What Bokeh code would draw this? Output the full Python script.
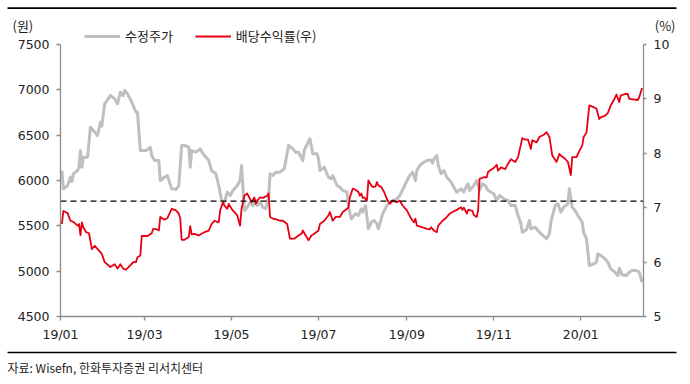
import pandas as pd
from bokeh.plotting import figure
from bokeh.models import (Range1d, LinearAxis, DatetimeAxis, FixedTicker, DatetimeTickFormatter,
                          Label, Legend, LegendItem, BoxAnnotation)
from bokeh.embed import file_html
from bokeh.resources import INLINE

# ---------------- data ----------------
price_dates = [
    "2019-01-02", "2019-01-03", "2019-01-06", "2019-01-08", "2019-01-09", "2019-01-10", "2019-01-13",
    "2019-01-14", "2019-01-15", "2019-01-16", "2019-01-17", "2019-01-20", "2019-01-22", "2019-01-24",
    "2019-01-27", "2019-01-29", "2019-01-30", "2019-02-01", "2019-02-05", "2019-02-08", "2019-02-10",
    "2019-02-12", "2019-02-14", "2019-02-15", "2019-02-17", "2019-02-20", "2019-02-23", "2019-02-24",
    "2019-02-26", "2019-03-02", "2019-03-05", "2019-03-06", "2019-03-08", "2019-03-11", "2019-03-12",
    "2019-03-15", "2019-03-17", "2019-03-20", "2019-03-23", "2019-03-25", "2019-03-27", "2019-03-29",
    "2019-04-01", "2019-04-02", "2019-04-03", "2019-04-06", "2019-04-09", "2019-04-11", "2019-04-15",
    "2019-04-17", "2019-04-20", "2019-04-22", "2019-04-24", "2019-04-26", "2019-04-28", "2019-04-30",
    "2019-05-02", "2019-05-05", "2019-05-07", "2019-05-08", "2019-05-09", "2019-05-10", "2019-05-12",
    "2019-05-14", "2019-05-16", "2019-05-18", "2019-05-19", "2019-05-21", "2019-05-23", "2019-05-25",
    "2019-05-27", "2019-05-28", "2019-05-30", "2019-06-01", "2019-06-04", "2019-06-07", "2019-06-10",
    "2019-06-13", "2019-06-15", "2019-06-17", "2019-06-20", "2019-06-21", "2019-06-22", "2019-06-25",
    "2019-06-27", "2019-06-30", "2019-07-01", "2019-07-02", "2019-07-05", "2019-07-08", "2019-07-10",
    "2019-07-11", "2019-07-14", "2019-07-16", "2019-07-18", "2019-07-21", "2019-07-22", "2019-07-24",
    "2019-07-27", "2019-07-29", "2019-07-31", "2019-08-01", "2019-08-03", "2019-08-05", "2019-08-07",
    "2019-08-09", "2019-08-11", "2019-08-12", "2019-08-13", "2019-08-15", "2019-08-18", "2019-08-20",
    "2019-08-22", "2019-08-25", "2019-08-27", "2019-08-31", "2019-09-03", "2019-09-05", "2019-09-07",
    "2019-09-08", "2019-09-10", "2019-09-13", "2019-09-15", "2019-09-18", "2019-09-19", "2019-09-20",
    "2019-09-22", "2019-09-23", "2019-09-25", "2019-09-27", "2019-09-29", "2019-10-02", "2019-10-04",
    "2019-10-06", "2019-10-09", "2019-10-11", "2019-10-13", "2019-10-14", "2019-10-15", "2019-10-18",
    "2019-10-20", "2019-10-22", "2019-10-24", "2019-10-26", "2019-10-28", "2019-11-01", "2019-11-03",
    "2019-11-05", "2019-11-08", "2019-11-11", "2019-11-13", "2019-11-16", "2019-11-18", "2019-11-20",
    "2019-11-21", "2019-11-24", "2019-11-26", "2019-11-27", "2019-11-30", "2019-12-03", "2019-12-05",
    "2019-12-08", "2019-12-10", "2019-12-11", "2019-12-14", "2019-12-16", "2019-12-18", "2019-12-20",
    "2019-12-23", "2019-12-24", "2019-12-26", "2019-12-28", "2019-12-30", "2020-01-02", "2020-01-03",
    "2020-01-05", "2020-01-07", "2020-01-10", "2020-01-12", "2020-01-13", "2020-01-15", "2020-01-18",
    "2020-01-20", "2020-01-22", "2020-01-25", "2020-01-27", "2020-01-28", "2020-01-30", "2020-02-02",
    "2020-02-04", "2020-02-06", "2020-02-09", "2020-02-11", "2020-02-13",
]
price = [
    6110, 5908, 5945, 6036, 5990, 6073, 6110,
    6147, 6330, 6147, 6257, 6257, 6588, 6551,
    6496, 6643, 6600, 6846, 6937, 6900, 6846,
    6974, 6937, 6993, 6956, 6864, 6753, 6753,
    6330, 6330, 6367, 6276, 6220, 6220, 6000,
    6036, 6055, 5908, 5900, 5945, 6386, 6386,
    6367, 6147, 6330, 6312, 6349, 6294, 6220,
    6110, 6074, 5945, 5779, 5760, 5871, 5834,
    5890, 5945, 6000, 6165, 5925, 5669, 5706,
    5760, 5724, 5779, 5724, 5760, 5706, 5688,
    5816, 6074, 6055, 6092, 6092, 6129, 6386,
    6349, 6312, 6312, 6220, 6330, 6367, 6460,
    6294, 6294, 6239, 6110, 6147, 6036, 6018,
    6055, 5945, 5926, 5890, 5871, 5706, 5578,
    5633, 5614, 5688, 5651, 5724, 5467, 5541,
    5559, 5522, 5467, 5522, 5633, 5724, 5760,
    5779, 5798, 5834, 5963, 6055, 6092, 6000,
    6110, 6165, 6202, 6220, 6226, 6190, 6239,
    6276, 6165, 6074, 6110, 6036, 5982, 5926,
    5871, 5908, 5871, 5945, 5963, 5890, 5945,
    6000, 5890, 5963, 5945, 5890, 5853, 5779,
    5834, 5798, 5779, 5724, 5724, 5614, 5522,
    5430, 5459, 5559, 5467, 5485, 5430, 5400,
    5357, 5412, 5540, 5724, 5742, 5651, 5706,
    5742, 5908, 5706, 5669, 5614, 5540, 5430,
    5357, 5062, 5080, 5099, 5191, 5173, 5136,
    5099, 5025, 4989, 4952, 5033, 4960, 4952,
    4989, 5007, 5007, 4989, 4878,
]

yield_dates = [
    "2019-01-02", "2019-01-03", "2019-01-06", "2019-01-08", "2019-01-10", "2019-01-13", "2019-01-14",
    "2019-01-15", "2019-01-16", "2019-01-17", "2019-01-19", "2019-01-21", "2019-01-23", "2019-01-25",
    "2019-01-28", "2019-01-30", "2019-02-01", "2019-02-05", "2019-02-08", "2019-02-10", "2019-02-12",
    "2019-02-14", "2019-02-16", "2019-02-19", "2019-02-21", "2019-02-23", "2019-02-24", "2019-02-26",
    "2019-02-27", "2019-03-03", "2019-03-06", "2019-03-07", "2019-03-09", "2019-03-11", "2019-03-12",
    "2019-03-15", "2019-03-17", "2019-03-20", "2019-03-23", "2019-03-25", "2019-03-26", "2019-03-27",
    "2019-03-29", "2019-04-01", "2019-04-02", "2019-04-03", "2019-04-05", "2019-04-08", "2019-04-10",
    "2019-04-12", "2019-04-15", "2019-04-17", "2019-04-19", "2019-04-22", "2019-04-23", "2019-04-25",
    "2019-04-26", "2019-04-28", "2019-04-29", "2019-05-01", "2019-05-03", "2019-05-05", "2019-05-07",
    "2019-05-08", "2019-05-10", "2019-05-12", "2019-05-14", "2019-05-15", "2019-05-17", "2019-05-18",
    "2019-05-20", "2019-05-21", "2019-05-23", "2019-05-26", "2019-05-27", "2019-05-28", "2019-05-30",
    "2019-06-02", "2019-06-04", "2019-06-06", "2019-06-09", "2019-06-11", "2019-06-14", "2019-06-17",
    "2019-06-19", "2019-06-20", "2019-06-22", "2019-06-24", "2019-06-26", "2019-06-28", "2019-07-01",
    "2019-07-02", "2019-07-05", "2019-07-08", "2019-07-09", "2019-07-11", "2019-07-13", "2019-07-16",
    "2019-07-18", "2019-07-21", "2019-07-22", "2019-07-23", "2019-07-25", "2019-07-27", "2019-07-29",
    "2019-07-30", "2019-07-31", "2019-08-01", "2019-08-02", "2019-08-04", "2019-08-05", "2019-08-07",
    "2019-08-08", "2019-08-10", "2019-08-11", "2019-08-12", "2019-08-14", "2019-08-16", "2019-08-18",
    "2019-08-20", "2019-08-22", "2019-08-25", "2019-08-27", "2019-08-29", "2019-09-01", "2019-09-04",
    "2019-09-06", "2019-09-07", "2019-09-08", "2019-09-12", "2019-09-15", "2019-09-17", "2019-09-18",
    "2019-09-20", "2019-09-22", "2019-09-23", "2019-09-26", "2019-09-28", "2019-10-01", "2019-10-03",
    "2019-10-06", "2019-10-09", "2019-10-10", "2019-10-11", "2019-10-13", "2019-10-14", "2019-10-17",
    "2019-10-18", "2019-10-20", "2019-10-21", "2019-10-22", "2019-10-25", "2019-10-27", "2019-10-28",
    "2019-11-01", "2019-11-03", "2019-11-04", "2019-11-06", "2019-11-09", "2019-11-11", "2019-11-13",
    "2019-11-16", "2019-11-18", "2019-11-21", "2019-11-23", "2019-11-25", "2019-11-27", "2019-11-28",
    "2019-12-01", "2019-12-03", "2019-12-06", "2019-12-08", "2019-12-10", "2019-12-12", "2019-12-15",
    "2019-12-17", "2019-12-18", "2019-12-21", "2019-12-23", "2019-12-25", "2019-12-26", "2019-12-29",
    "2019-12-30", "2020-01-02", "2020-01-03", "2020-01-05", "2020-01-07", "2020-01-10", "2020-01-12",
    "2020-01-14", "2020-01-15", "2020-01-18", "2020-01-20", "2020-01-22", "2020-01-24", "2020-01-26",
    "2020-01-28", "2020-01-29", "2020-02-01", "2020-02-03", "2020-02-04", "2020-02-07", "2020-02-10",
    "2020-02-11", "2020-02-13",
]
dividend_yield = [
    6.70, 6.94, 6.90, 6.76, 6.74, 6.67, 6.70,
    6.49, 6.73, 6.64, 6.55, 6.53, 6.24, 6.30,
    6.21, 6.15, 6.00, 5.91, 5.96, 5.88, 5.96,
    5.88, 5.86, 5.94, 6.00, 6.00, 6.09, 6.12,
    6.48, 6.48, 6.53, 6.61, 6.61, 6.58, 6.83,
    6.78, 6.81, 6.98, 6.95, 6.89, 6.80, 6.41,
    6.41, 6.46, 6.66, 6.51, 6.52, 6.49, 6.52,
    6.55, 6.58, 6.70, 6.76, 6.73, 6.95, 7.10,
    7.04, 6.98, 7.07, 6.98, 6.92, 6.86, 6.67,
    6.98, 7.22, 7.26, 7.16, 7.10, 7.19, 7.07,
    7.16, 7.19, 7.18, 7.22, 7.26, 6.83, 6.80,
    6.78, 6.76, 6.76, 6.70, 6.43, 6.43, 6.49,
    6.52, 6.58, 6.49, 6.40, 6.49, 6.52, 6.58,
    6.70, 6.76, 6.86, 6.92, 6.76, 6.83, 6.83,
    6.92, 6.98, 7.00, 7.19, 7.35, 7.33, 7.29,
    7.22, 7.26, 7.18, 7.19, 7.13, 7.50, 7.41,
    7.38, 7.39, 7.47, 7.41, 7.38, 7.29, 7.16,
    7.07, 7.13, 7.10, 7.13, 7.04, 6.95, 6.80,
    6.73, 6.80, 6.67, 6.64, 6.61, 6.60, 6.64,
    6.58, 6.55, 6.67, 6.76, 6.80, 6.89, 6.92,
    6.96, 7.01, 6.96, 7.00, 6.89, 6.96, 6.94,
    6.86, 6.83, 6.95, 7.53, 7.56, 7.56, 7.66,
    7.73, 7.79, 7.68, 7.74, 7.71, 7.81, 7.89,
    7.84, 7.93, 8.28, 8.25, 8.25, 8.08, 8.24,
    8.20, 8.30, 8.34, 8.39, 8.30, 7.96, 7.84,
    7.99, 7.96, 7.90, 7.84, 7.60, 7.93, 7.93,
    7.99, 8.14, 8.30, 8.38, 8.88, 8.85, 8.82,
    8.63, 8.66, 8.69, 8.74, 8.88, 8.97, 9.08,
    8.94, 9.06, 9.09, 9.09, 9.00, 8.99, 8.98,
    9.03, 9.20,
]

avg_yield = 7.12  # dashed reference line (right axis, %)

x_tick_dates = ["2019-01-01", "2019-03-01", "2019-05-01", "2019-07-01",
                "2019-09-01", "2019-11-01", "2020-01-01"]
x_axis_start, x_axis_end = "2019-01-01", "2020-02-14"
left_ticks = [4500, 5000, 5500, 6000, 6500, 7000, 7500]
right_ticks = [5, 6, 7, 8, 9, 10]

series_names = ["수정주가", "배당수익률(우)"]
unit_left = "(원)"
unit_right = "(%)"
source_text = "자료: Wisefn, 한화투자증권 리서치센터"

# ---------------- layout (pixels inside the figure) ----------------
FIG_W, FIG_H = 682, 376
AX_L, AX_R, AX_T, AX_B = 60, 643, 44, 316  # where the axes sit

x0_ms = pd.Timestamp(x_axis_start).value / 1e6
x1_ms = pd.Timestamp(x_axis_end).value / 1e6
Y0, Y1 = left_ticks[0], left_ticks[-1]
P0, P1 = right_ticks[0], right_ticks[-1]

ms_per_px = (x1_ms - x0_ms) / (AX_R - AX_L)
y_per_px = (Y1 - Y0) / (AX_B - AX_T)
p_per_px = (P1 - P0) / (AX_B - AX_T)

def px_x(px):
    return x0_ms + (px - AX_L) * ms_per_px

def px_y(py):
    return Y1 - (py - AX_T) * y_per_px

GRAY = "#BFBFBF"
RED = "#E60012"
NUM_FONT = "DejaVu Sans"
KR_FONT = "Noto Sans CJK KR"
AXIS_COLOR = "#8C8C8C"
LABEL_COLOR = "#222222"

p = figure(width=FIG_W, height=FIG_H,
           output_backend="svg", toolbar_location=None,
           x_axis_location=None, y_axis_location=None,
           x_range=Range1d(px_x(0), px_x(FIG_W)),
           y_range=Range1d(px_y(FIG_H), px_y(0)),
           min_border=0, min_border_left=0, min_border_right=0,
           min_border_top=0, min_border_bottom=0)
p.background_fill_color = "white"
p.border_fill_color = "white"
p.outline_line_color = None
p.grid.visible = False
p.extra_y_ranges = {"pct": Range1d(P1 - (FIG_H - AX_T) * p_per_px, P1 + AX_T * p_per_px)}

def style_axis(ax, tick_out=4):
    ax.axis_line_color = AXIS_COLOR
    ax.axis_line_width = 1.3
    ax.major_tick_line_color = AXIS_COLOR
    ax.major_tick_line_width = 1.3
    ax.major_tick_in = 0
    ax.major_tick_out = tick_out
    ax.minor_tick_line_color = None
    ax.major_label_text_font = NUM_FONT
    ax.major_label_text_font_size = "12.5px"
    ax.major_label_text_color = LABEL_COLOR

# bottom axis
xa = DatetimeAxis(fixed_location=Y0, bounds=(x0_ms, x1_ms))
style_axis(xa)
xa.ticker = FixedTicker(ticks=[pd.Timestamp(d).value / 1e6 for d in x_tick_dates])
xa.formatter = DatetimeTickFormatter(days="%y/%m", months="%y/%m", years="%y/%m")
xa.major_label_standoff = 6
p.add_layout(xa, "below")

# left axis
ya = LinearAxis(fixed_location=x0_ms, bounds=(Y0, Y1))
style_axis(ya)
ya.ticker = FixedTicker(ticks=left_ticks)
ya.major_label_standoff = 7
p.add_layout(ya, "left")

# right axis
ra = LinearAxis(y_range_name="pct", fixed_location=x1_ms, bounds=(P0, P1))
style_axis(ra, tick_out=3)
ra.ticker = FixedTicker(ticks=right_ticks)
ra.major_label_standoff = 7
p.add_layout(ra, "right")

# series
pdates = pd.to_datetime(price_dates)
ydates = pd.to_datetime(yield_dates)
r_gray = p.line(pdates, price, line_color=GRAY, line_width=3, line_join="round")
r_red = p.line(ydates, dividend_yield, line_color=RED, line_width=1.8,
               line_join="round", y_range_name="pct")

# dashed average line across the plot area
p.segment(x0=[x0_ms], y0=[avg_yield], x1=[x1_ms], y1=[avg_yield], y_range_name="pct",
          line_color="black", line_width=1.4, line_dash="6 4")

# legend
legend = Legend(items=[LegendItem(label=series_names[0], renderers=[r_gray]),
                       LegendItem(label=series_names[1], renderers=[r_red])],
                orientation="horizontal", location=(84, FIG_H - 45),
                glyph_width=36, glyph_height=16, label_height=16,
                label_standoff=5, spacing=22, padding=0, margin=0,
                border_line_color=None, background_fill_alpha=0,
                label_text_font=KR_FONT, label_text_font_size="13px",
                label_text_color=LABEL_COLOR)
p.add_layout(legend, "center")

# unit labels and source
p.add_layout(Label(x=px_x(12), y=px_y(25), text=unit_left, text_font=KR_FONT,
                   text_font_size="13px", text_color=LABEL_COLOR,
                   text_baseline="middle", text_align="left"))
p.add_layout(Label(x=px_x(675), y=px_y(25), text=unit_right, text_font=KR_FONT,
                   text_font_size="13px", text_color=LABEL_COLOR,
                   text_baseline="middle", text_align="right"))
p.add_layout(Label(x=px_x(7), y=px_y(367), text=source_text, text_font=KR_FONT,
                   text_font_size="12px", text_color=LABEL_COLOR,
                   text_baseline="middle", text_align="left"))

# top and bottom rule lines
for top_py in (6.8, 351.2):
    p.add_layout(BoxAnnotation(left=px_x(7), right=px_x(676),
                               top=px_y(top_py), bottom=px_y(top_py + 1.6),
                               fill_color="black", fill_alpha=1,
                               line_color=None))

open("out.html", "w").write(file_html(p, INLINE))
